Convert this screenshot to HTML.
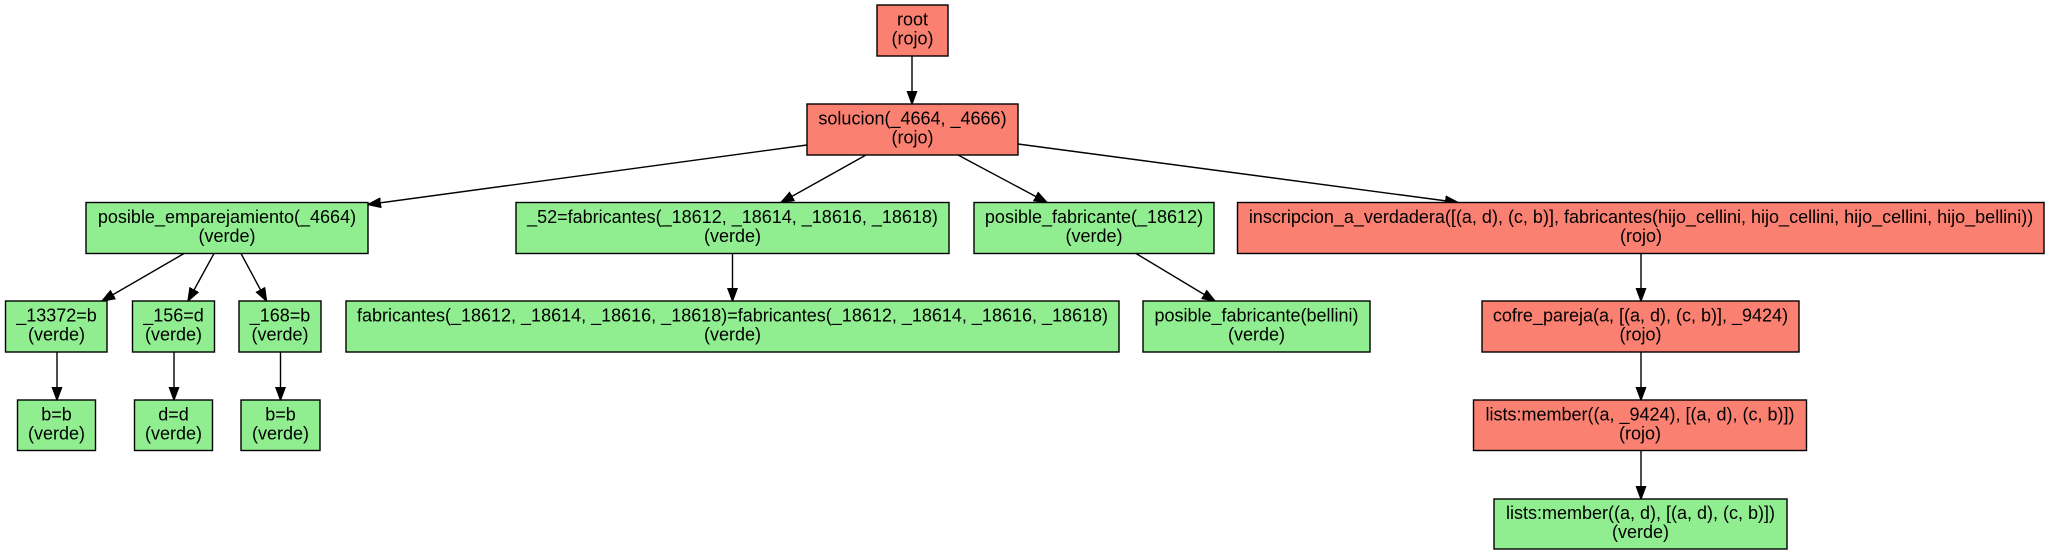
<!DOCTYPE html>
<html><head><meta charset="utf-8"><style>
html,body{margin:0;padding:0;background:#fff;width:2049px;height:555px;overflow:hidden}
svg{display:block}
text{font-family:"Liberation Sans",Arial,sans-serif;font-size:18px;fill:#000;text-anchor:middle}
.r{fill:#fa8072;stroke:#000;stroke-width:1.4}
.g{fill:#90ee90;stroke:#000;stroke-width:1.4}
line{stroke:#000;stroke-width:1.4}
</style></head><body>
<svg width="2049" height="555" viewBox="0 0 2049 555" xmlns="http://www.w3.org/2000/svg">
<defs><marker id="a" viewBox="0 0 10 10" refX="10" refY="5" markerWidth="13" markerHeight="13" markerUnits="userSpaceOnUse" orient="auto"><path d="M0,1.3 L10,5 L0,8.7 z" fill="#000" stroke="#000"/></marker></defs>
<g marker-end="url(#a)">
<line x1="912" y1="56" x2="912" y2="104"/>
<line x1="807" y1="145" x2="368" y2="204.5"/>
<line x1="866" y1="155" x2="781" y2="202.5"/>
<line x1="958" y1="155" x2="1047" y2="202.5"/>
<line x1="1018" y1="144" x2="1458" y2="202.5"/>
<line x1="184" y1="253.5" x2="102" y2="301"/>
<line x1="214" y1="253.5" x2="188" y2="301"/>
<line x1="241" y1="253.5" x2="266.5" y2="301"/>
<line x1="732.5" y1="253.5" x2="732.5" y2="301"/>
<line x1="1136" y1="253.5" x2="1215" y2="301"/>
<line x1="1641" y1="253.5" x2="1641" y2="301"/>
<line x1="57" y1="352" x2="57" y2="400"/>
<line x1="174" y1="352" x2="174" y2="400"/>
<line x1="280.5" y1="352" x2="280.5" y2="400"/>
<line x1="1641" y1="352" x2="1641" y2="400"/>
<line x1="1641" y1="450.5" x2="1641" y2="499"/>
</g>
<rect class="r" x="877" y="5" width="71" height="51"/>
<text x="912.5" y="25.5">root</text><text x="912.5" y="44.5">(rojo)</text>

<rect class="r" x="807" y="104" width="211" height="51"/>
<text x="912.5" y="124.5">solucion(_4664, _4666)</text><text x="912.5" y="143.5">(rojo)</text>

<rect class="g" x="86" y="202.5" width="282" height="51"/>
<text x="227" y="223">posible_emparejamiento(_4664)</text><text x="227" y="242">(verde)</text>

<rect class="g" x="516" y="202.5" width="433" height="51"/>
<text x="732.5" y="223">_52=fabricantes(_18612, _18614, _18616, _18618)</text><text x="732.5" y="242">(verde)</text>

<rect class="g" x="974" y="202.5" width="240" height="51"/>
<text x="1094" y="223">posible_fabricante(_18612)</text><text x="1094" y="242">(verde)</text>

<rect class="r" x="1237.5" y="202.5" width="806.5" height="51"/>
<text x="1641" y="223">inscripcion_a_verdadera([(a, d), (c, b)], fabricantes(hijo_cellini, hijo_cellini, hijo_cellini, hijo_bellini))</text><text x="1641" y="242">(rojo)</text>

<rect class="g" x="5.5" y="301" width="101.5" height="51"/>
<text x="56.5" y="321.5">_13372=b</text><text x="56.5" y="340.5">(verde)</text>

<rect class="g" x="132.5" y="301" width="82" height="51"/>
<text x="173.5" y="321.5">_156=d</text><text x="173.5" y="340.5">(verde)</text>

<rect class="g" x="239" y="301" width="82" height="51"/>
<text x="280" y="321.5">_168=b</text><text x="280" y="340.5">(verde)</text>

<rect class="g" x="346" y="301" width="773" height="51"/>
<text x="732.5" y="321.5">fabricantes(_18612, _18614, _18616, _18618)=fabricantes(_18612, _18614, _18616, _18618)</text><text x="732.5" y="340.5">(verde)</text>

<rect class="g" x="1143" y="301" width="227" height="51"/>
<text x="1256.5" y="321.5">posible_fabricante(bellini)</text><text x="1256.5" y="340.5">(verde)</text>

<rect class="r" x="1482" y="301" width="317" height="51"/>
<text x="1640.5" y="321.5">cofre_pareja(a, [(a, d), (c, b)], _9424)</text><text x="1640.5" y="340.5">(rojo)</text>

<rect class="g" x="17.5" y="400" width="78" height="50.5"/>
<text x="56.5" y="420.5">b=b</text><text x="56.5" y="439.5">(verde)</text>

<rect class="g" x="134.5" y="400" width="78" height="50.5"/>
<text x="173.5" y="420.5">d=d</text><text x="173.5" y="439.5">(verde)</text>

<rect class="g" x="241" y="400" width="79" height="50.5"/>
<text x="280.5" y="420.5">b=b</text><text x="280.5" y="439.5">(verde)</text>

<rect class="r" x="1473.5" y="400" width="333" height="50.5"/>
<text x="1640" y="420.5">lists:member((a, _9424), [(a, d), (c, b)])</text><text x="1640" y="439.5">(rojo)</text>

<rect class="g" x="1494" y="499" width="293" height="50"/>
<text x="1640.5" y="519">lists:member((a, d), [(a, d), (c, b)])</text><text x="1640.5" y="538">(verde)</text>
</svg>
</body></html>
